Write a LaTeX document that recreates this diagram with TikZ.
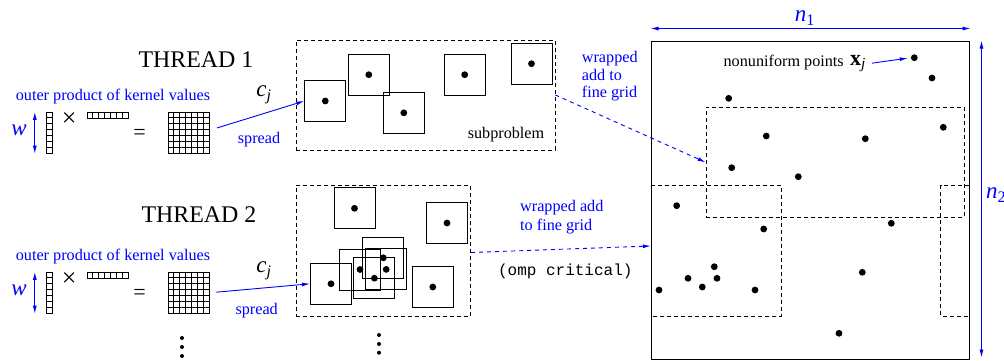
\documentclass[tikz,border=0pt]{standalone}
\usepackage{fontspec}
\setmainfont{Liberation Serif}
\setmonofont{Liberation Mono}
\usetikzlibrary{arrows.meta,calc}
\begin{document}
\begin{tikzpicture}[x=1pt,y=-1pt,
  every node/.style={font=\fontsize{16.2}{19.4}\selectfont, inner sep=0pt},
  big/.style={font=\fontsize{23.9}{28}\selectfont},
  mth/.style={font=\fontsize{23}{27}\selectfont\itshape},
  lbl/.style={text=blue},
  sq/.style={draw, minimum size=41pt, line width=0.9pt,
    path picture={\fill (path picture bounding box.center) circle (3.4pt);}},
  dot/.style={circle, fill, minimum size=6.8pt},
  vdot/.style={circle, fill, minimum size=4pt},
  subbox/.style={draw, dash pattern=on 4pt off 3pt, line width=0.8pt},
  dline/.style={dash pattern=on 4pt off 3pt, line width=0.8pt},
  barrow/.style={blue, line width=0.9pt, -{Latex[length=8pt,width=4pt]}},
  bdash/.style={barrow, dash pattern=on 4pt off 4pt},
  dimarrow/.style={blue, line width=0.9pt, {Latex[length=8pt,width=4pt]}-{Latex[length=8pt,width=4pt]}},
  cell/.style={draw, line width=0.8pt}
]
\useasboundingbox (0,0) rectangle (1004,360);

% ---------- kernel outer products ----------
\foreach \t/\ty in {1/112.3,2/272.3}{
  \node[cell, minimum width=6pt, minimum height=41pt] (col\t) at (49.2,\ty+20.5) {};
  \foreach \k in {1,...,6}
    \draw[line width=0.8pt] ($(col\t.north west)!\k/7!(col\t.south west)$) -- ($(col\t.north east)!\k/7!(col\t.south east)$);
  \node[cell, minimum width=41pt, minimum height=6pt] (row\t) at (107.8,\ty+3.2) {};
  \foreach \k in {1,...,6}
    \draw[line width=0.8pt] ($(row\t.north west)!\k/7!(row\t.north east)$) -- ($(row\t.south west)!\k/7!(row\t.south east)$);
  \node[cell, minimum size=41pt] (grid\t) at (188.5,\ty+20.5) {};
  \foreach \k in {1,...,6}{
    \draw[line width=0.8pt] ($(grid\t.north west)!\k/7!(grid\t.north east)$) -- ($(grid\t.south west)!\k/7!(grid\t.south east)$);
    \draw[line width=0.8pt] ($(grid\t.north west)!\k/7!(grid\t.south west)$) -- ($(grid\t.north east)!\k/7!(grid\t.south east)$);
  }
  \node[lbl] (op\t) at (113,\ty-15.8) {outer product of kernel values};
  \node[mth, text=blue] (w\t) at (19,\ty+18) {w};
  \draw[dimarrow] ($(col\t.north west)+(-11,0)$) -- ($(col\t.south west)+(-11,0)$);
  \node[font=\fontsize{26}{30}\selectfont] (x\t) at (69.2,\ty+7) {×};
  \node[font=\fontsize{22}{26}\selectfont] (eq\t) at (139.5,\ty+21.8) {=};
}

% ---------- thread titles and labels ----------
\node[big] (th1) at (196,60) {THREAD 1};
\node[big] (th2) at (199,214.3) {THREAD 2};
\node[mth] (cj1) at (264,95) {c\textsubscript{j}};
\node[mth] (cj2) at (264,271) {c\textsubscript{j}};
\node[lbl] (sp1) at (259,140) {spread};
\node[lbl] (sp2) at (256.7,311) {spread};

% ---------- subproblem 1 ----------
\node[subbox, minimum width=259pt, minimum height=110pt] (sub1) at (425.5,95) {};
\node[sq] (s1) at (325.3,101) {};
\node[sq] (s2) at (368.8,74.7) {};
\node[sq] (s3) at (403.8,112.8) {};
\node[sq] (s4) at (464.7,74.7) {};
\node[sq] (s5) at (531.5,63.7) {};
\node (subl) at (506,135) {subproblem};

% ---------- subproblem 2 ----------
\node[subbox, minimum width=174.7pt, minimum height=131pt] (sub2) at (383.3,250.5) {};
\node[sq] (t1) at (354.5,208.3) {};
\node[sq] (t2) at (447,223) {};
\node[sq] (t3) at (331,283.8) {};
\node[sq] (t4) at (432.8,287) {};
\node[sq] (t5) at (360,269.5) {};
\node[sq] (t6) at (383.3,257.8) {};
\node[sq] (t7) at (374.4,278.2) {};
\node[sq] (t8) at (386.2,269.4) {};

% vertical ellipsis
\node[vdot] (va1) at (182,338) {};
\node[vdot] (va2) at (182,347) {};
\node[vdot] (va3) at (182,356) {};
\node[vdot] (vb1) at (379,335) {};
\node[vdot] (vb2) at (379,344) {};
\node[vdot] (vb3) at (379,352.7) {};

% spread arrows
\draw[barrow, shorten <=8pt] ($(grid1.east)+(0,-2.5)$) -- (s1.west);
\draw[barrow, shorten <=7pt] (grid2.east) -- (t3.west);

% ---------- fine grid ----------
\node[draw, line width=1pt, minimum width=318pt, minimum height=318pt] (fine) at (810,200) {};
\node[subbox, minimum width=258pt, minimum height=110pt] (up) at (835,162.3) {};
\node[minimum width=130pt, minimum height=130.4pt] (low) at (716,250.5) {};
\draw[dline] (low.north west) -- (low.north east) -- (low.south east) -- (low.south west);
\node[minimum width=28pt, minimum height=130.4pt] (lowr) at (955,250.5) {};
\draw[dline] (lowr.north east) -- (lowr.north west) -- (lowr.south west) -- (lowr.south east);

\foreach \i/\px/\py in {1/914.3/57.7, 2/932/78, 3/728.7/98.3, 4/943.3/127.3, 5/766.3/136,
  6/865.3/138.7, 7/731.7/167.7, 8/798.3/176.7, 9/676.7/205.7, 10/763.7/229,
  11/891.3/223.3, 12/714.3/266.7, 13/688/278.3, 14/717/278.3, 15/702.3/287,
  16/659/290, 17/755/290, 18/862.3/272.3, 19/839/333.3}
  \node[dot] (p\i) at (\px,\py) {};

\node (np) at (783.7,62.3) {nonuniform points};
\node[font=\fontsize{22}{26}\selectfont] (xj) at (858,64) {\textbf{x}\textsubscript{\itshape j}};
\draw[barrow, shorten <=6pt, shorten >=3pt] (xj.east) -- (p1.west);

% dimensions
\draw[dimarrow] ($(fine.north west)+(0,-12)$) -- ($(fine.north east)+(1,-12)$);
\node[mth, text=blue] (n1) at (805,18) {n\textsubscript{\upshape 1}};
\draw[dimarrow] ($(fine.north east)+(12,0)$) -- ($(fine.south east)+(12,-2)$);
\node[mth, text=blue, anchor=west] (n2) at (986,195) {n\textsubscript{\upshape 2}};

% wrapped add arrows
\node[lbl, anchor=west, align=left, font=\fontsize{16.2}{17.2}\selectfont] (wr1) at (581.7,76.2) {wrapped\\add to\\fine grid};
\draw[bdash] (sub1.east) -- (up.west);
\node[lbl, anchor=west, align=left, font=\fontsize{16.2}{19.4}\selectfont] (wr2) at (520,217) {wrapped add\\to fine grid};
\draw[bdash] ($(sub2.east)+(0,2)$) -- ($(low.west)+(0,-4.5)$);
\node[font=\ttfamily\fontsize{16}{19}\selectfont] (omp) at (565.3,271.7) {(omp critical)};

\end{tikzpicture}
\end{document}
